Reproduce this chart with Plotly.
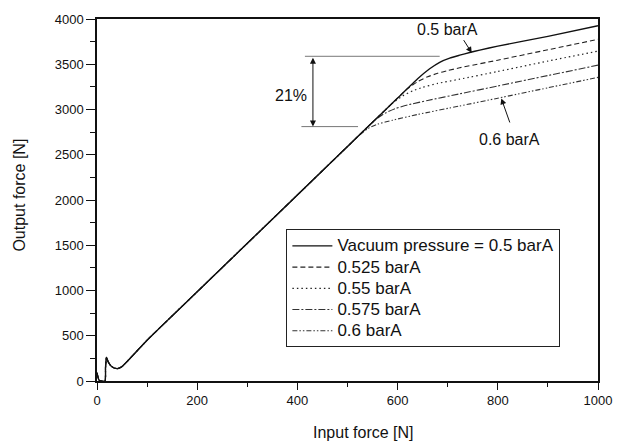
import plotly.graph_objects as go

# Shared initial part and linear segment
base_x = [0, 4, 8, 16, 17, 19, 22, 28, 35, 42, 50, 100, 200, 300, 400, 500]
base_y = [90, 10, 0, 0, 150, 263, 215, 165, 142, 138, 160, 451, 986, 1521, 2056, 2591]

# Knee + saturated parts for each vacuum pressure
p050_x = [550, 600, 640, 664, 684, 704, 724, 744, 764, 800, 900, 1000]
p050_y = [2859, 3126, 3340, 3450, 3522, 3568, 3600, 3630, 3656, 3700, 3808, 3925]
p0525_x = [550, 600, 620, 640, 660, 680, 700, 724, 800, 900, 1000]
p0525_y = [2859, 3126, 3230, 3308, 3362, 3400, 3430, 3461, 3545, 3660, 3775]
p055_x = [550, 590, 610, 630, 650, 680, 724, 800, 900, 1000]
p055_y = [2859, 3070, 3150, 3206, 3245, 3288, 3335, 3420, 3535, 3645]
p0575_x = [520, 555, 575, 595, 620, 660, 724, 800, 900, 1000]
p0575_y = [2698, 2884, 2960, 3010, 3050, 3100, 3173, 3260, 3375, 3490]
p060_x = [520, 540, 560, 590, 640, 724, 800, 900, 1000]
p060_y = [2698, 2788, 2838, 2882, 2945, 3039, 3125, 3240, 3355]

names = ["Vacuum pressure = 0.5 barA", "0.525 barA", "0.55 barA", "0.575 barA", "0.6 barA"]
dashes = ["solid", "5px,3px", "1.5px,3px", "7px,2px,2px,2px", "5px,2px,1.5px,2px,1.5px,2px"]
widths = [1.4, 1.1, 1.2, 1.1, 1.1]
colors = ["#111111", "#222222", "#222222", "#333333", "#333333"]
series = [(p050_x, p050_y), (p0525_x, p0525_y), (p055_x, p055_y), (p0575_x, p0575_y), (p060_x, p060_y)]

font = "Liberation Sans, Arial, sans-serif"

fig = go.Figure()
order = [4, 3, 2, 1, 0]
for i in order:
    sx, sy = series[i]
    bx = [x for x in base_x if x < sx[0]]
    by = base_y[:len(bx)]
    fig.add_trace(go.Scatter(
        x=bx + sx, y=by + sy, mode="lines",
        name='<span style="font-size:17px">' + names[i] + '</span>',
        line=dict(color=colors[i], width=widths[i], dash=dashes[i], shape="spline", smoothing=0.5),
        legendrank=i + 1,
    ))

# 21% annotation lines
upper_y = 3588
lower_y = 2811
fig.add_shape(type="line", x0=415, x1=684, y0=upper_y, y1=upper_y, line=dict(color="#777777", width=1))
fig.add_shape(type="line", x0=408, x1=521, y0=lower_y, y1=lower_y, line=dict(color="#777777", width=1))
fig.add_annotation(x=431, y=lower_y, ax=431, ay=upper_y, axref="x", ayref="y", xref="x", yref="y",
                   text="", showarrow=True, arrowhead=2, arrowside="end+start", arrowsize=1.2,
                   arrowwidth=1, arrowcolor="#111111")
fig.add_annotation(x=387, y=3154, text="21%", showarrow=False, font=dict(family=font, size=16, color="#111111"))

# pressure labels with arrows
fig.add_annotation(x=700, y=3881, text="0.5 barA", showarrow=False, font=dict(family=font, size=16, color="#111111"))
fig.add_annotation(x=748, y=3626, ax=730, ay=3783, axref="x", ayref="y", text="", showarrow=True,
                   arrowhead=2, arrowsize=1.2, arrowwidth=1, arrowcolor="#111111")
fig.add_annotation(x=823, y=2667, text="0.6 barA", showarrow=False, font=dict(family=font, size=16, color="#111111"))
fig.add_annotation(x=807, y=3122, ax=825, ay=2840, axref="x", ayref="y", text="", showarrow=True,
                   arrowhead=2, arrowsize=1.2, arrowwidth=1, arrowcolor="#111111")

# axis titles (placed in paper coordinates)
fig.add_annotation(x=(363 - 97) / 501, y=-(433 - 381) / 369, xref="paper", yref="paper",
                   text="Input force [N]", showarrow=False, xanchor="center", yanchor="middle",
                   font=dict(family=font, size=16, color="#111111"))
fig.add_annotation(x=-(97 - 20) / 501, y=(381 - 192) / 369, xref="paper", yref="paper", text="Output force [N]",
                   textangle=-90, showarrow=False, xanchor="center", yanchor="middle",
                   font=dict(family=font, size=16, color="#111111"))

fig.update_layout(
    width=625, height=441,
    margin=dict(l=97, r=27, t=12, b=60),
    paper_bgcolor="white", plot_bgcolor="white",
    font=dict(family=font, size=13, color="#111111"),
    showlegend=True,
    legend=dict(x=0.378, y=0.419, xanchor="left", yanchor="top",
                bordercolor="#222222", borderwidth=1, bgcolor="white",
                font=dict(family=font, size=14, color="#111111"),
                tracegroupgap=0, itemwidth=40),
    xaxis=dict(range=[0, 1000], dtick=200, tick0=0, showgrid=False, zeroline=False,
               showline=True, linecolor="#111111", linewidth=1.5, mirror=True,
               ticks="outside", ticklen=7, tickwidth=1.2, tickcolor="#111111",
               minor=dict(dtick=100, ticks="outside", ticklen=4, tickcolor="#111111", showgrid=False),
               tickfont=dict(size=13)),
    yaxis=dict(range=[0, 4000], dtick=500, tick0=0, showgrid=False, zeroline=False,
               showline=True, linecolor="#111111", linewidth=1.5, mirror=True,
               ticks="outside", ticklen=9, tickwidth=1.2, tickcolor="#111111",
               minor=dict(dtick=250, ticks="outside", ticklen=5, tickcolor="#111111", showgrid=False),
               tickfont=dict(size=13)),
)

fig.write_html("out.html")
